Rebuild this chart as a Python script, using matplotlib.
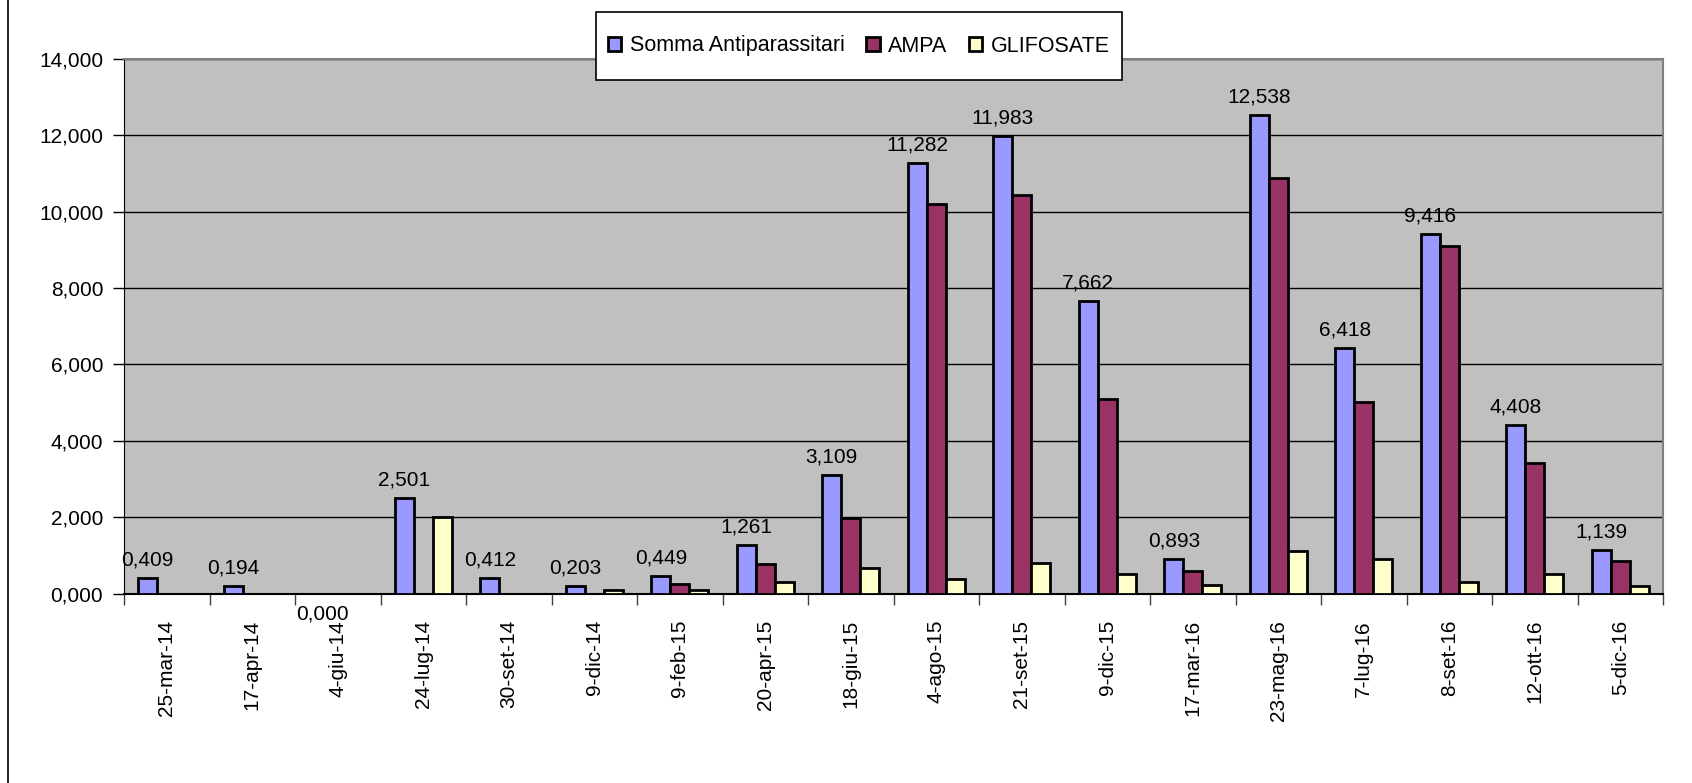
import numpy as np
import matplotlib.pyplot as plt
from matplotlib.patches import Rectangle
from matplotlib.lines import Line2D

plt.rcParams['font.family'] = ['Liberation Sans', 'DejaVu Sans']

# dates of sampling
dates = ['25-mar-14', '17-apr-14', '4-giu-14', '24-lug-14', '30-set-14', '9-dic-14',
         '9-feb-15', '20-apr-15', '18-giu-15', '4-ago-15', '21-set-15', '9-dic-15',
         '17-mar-16', '23-mag-16', '7-lug-16', '8-set-16', '12-ott-16', '5-dic-16']

somma = [0.409, 0.194, 0.000, 2.501, 0.412, 0.203, 0.449, 1.261, 3.109, 11.282,
         11.983, 7.662, 0.893, 12.538, 6.418, 9.416, 4.408, 1.139]
ampa = [0.0, 0.0, 0.0, 0.0, 0.0, 0.0, 0.24, 0.76, 1.99, 10.20,
        10.45, 5.10, 0.59, 10.89, 5.01, 9.09, 3.42, 0.85]
glifosate = [0.0, 0.0, 0.0, 2.00, 0.0, 0.08, 0.08, 0.29, 0.68, 0.39,
             0.79, 0.50, 0.21, 1.12, 0.91, 0.31, 0.51, 0.19]

series_names = ['Somma Antiparassitari', 'AMPA', 'GLIFOSATE']
colors = ['#9999FF', '#993366', '#FFFFCC']

def fmt(v):
    return f"{v:.3f}".replace('.', ',')

fig = plt.figure(figsize=(16.92, 7.83), dpi=100)
ax = fig.add_axes([124/1692, 189.5/783, 1539/1692, 534.5/783])
ax.set_facecolor('#C0C0C0')

x = np.arange(len(dates))
w = 1/4.5
handles = []
for k, (vals, name, c) in enumerate(zip([somma, ampa, glifosate], series_names, colors)):
    b = ax.bar(x + (k-1)*w, vals, width=w, color=c, edgecolor='black', linewidth=2,
               label=name, zorder=3)
    handles.append(b)

# labels over the first series
for xi, v in zip(x, somma):
    if v > 0:
        ax.annotate(fmt(v), (xi - w, v), xytext=(0, 9), textcoords='offset points',
                    ha='center', va='baseline', fontsize=15)
    else:
        ax.annotate(fmt(v), (xi - w + 0.04, v), xytext=(0, -8), textcoords='offset points',
                    ha='center', va='top', fontsize=15, zorder=5)

ax.set_ylim(0, 14)
ax.set_xlim(-0.5, len(dates) - 0.5)
yt = np.arange(0, 15, 2)
ax.set_yticks(yt)
ax.set_yticklabels([fmt(v) for v in yt], fontsize=15)
ax.tick_params(axis='y', direction='out', length=8, width=1, pad=7)
ax.yaxis.grid(True, color='black', linewidth=1, zorder=1)
ax.set_axisbelow(True)

ax.set_xticks(x)
ax.set_xticklabels(dates, rotation=90, fontsize=15)
ax.tick_params(axis='x', which='major', length=0, pad=19)
ax.set_xticks(np.arange(-0.5, len(dates)), minor=True)
ax.tick_params(axis='x', which='minor', direction='out', length=8, width=1, color='#404040')

for s in ['top', 'right']:
    ax.spines[s].set_color('#808080')
    ax.spines[s].set_linewidth(1.5)
ax.spines['left'].set_color('black')
ax.spines['bottom'].set_color('black')
ax.spines['bottom'].set_linewidth(1.5)

# legend box
fig.add_artist(Rectangle((596/1692, 1 - 80/783), 526/1692, 68/783, transform=fig.transFigure,
                         facecolor='white', edgecolor='black', linewidth=1.2, zorder=4))
fig.legend(handles=handles, loc='center', bbox_to_anchor=(859/1692, 1 - 46/783), ncol=3,
           frameon=False, fontsize=15.5, handlelength=0.62, handleheight=0.62,
           handletextpad=0.4, columnspacing=1.0)

# chart border on left
fig.add_artist(Line2D([8/1692, 8/1692], [0, 1], transform=fig.transFigure, color='black', linewidth=1.2))

fig.savefig('out.png', dpi=100)
